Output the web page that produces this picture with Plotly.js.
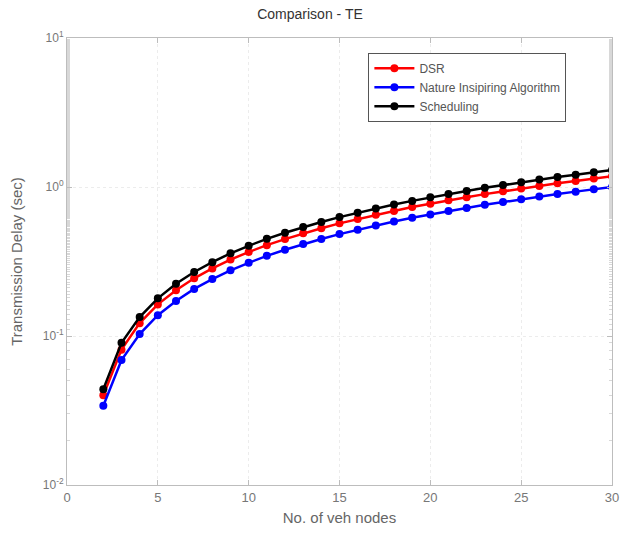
<!DOCTYPE html>
<html>
<head>
<meta charset="utf-8">
<script src="https://cdn.plot.ly/plotly-3.0.1.min.js"></script>
<style>html,body{margin:0;padding:0;background:#fff}#chart{width:620px;height:544px}</style>
</head>
<body>
<div id="chart"></div>
<script>
const nodes = [2,3,4,5,6,7,8,9,10,11,12,13,14,15,16,17,18,19,20,21,22,23,24,25,26,27,28,29,30];
const dsr = [0.040,0.081,0.122,0.163,0.203,0.244,0.284,0.326,0.366,0.407,0.447,0.489,0.529,0.570,0.610,0.651,0.691,0.733,0.773,0.814,0.854,0.896,0.936,0.977,1.017,1.058,1.099,1.140,1.18];
const nature = [0.034,0.069,0.103,0.138,0.172,0.207,0.241,0.276,0.310,0.345,0.379,0.414,0.448,0.483,0.517,0.552,0.586,0.621,0.655,0.690,0.724,0.759,0.793,0.828,0.862,0.897,0.931,0.966,1.0];
const scheduling = [0.044,0.090,0.134,0.179,0.224,0.269,0.313,0.359,0.403,0.449,0.493,0.538,0.582,0.628,0.672,0.718,0.762,0.807,0.852,0.897,0.941,0.987,1.031,1.076,1.121,1.166,1.210,1.256,1.30];
const names = ['DSR','Nature Insipiring Algorithm','Scheduling'];
const colors = ['#ff0000','#0000ff','#000000'];
const series = [dsr, nature, scheduling];
const xTicks = [0,5,10,15,20,25,30];
const yTicks = [0.01, 0.1, 1, 10];
const yTickText = ['10<sup>-2</sup>','10<sup>-1</sup>','10<sup>0</sup>','10<sup>1</sup>'];

const traces = series.map((ys,i)=>({
  x: nodes, y: ys, name: names[i], type:'scatter', mode:'lines+markers',
  line:{color:colors[i], width:2.5},
  marker:{color:colors[i], size:8, symbol:'circle'}
}));

const axisCommon = {
  showline:true, linecolor:'#bdbdbd', linewidth:1, mirror:'ticks',
  ticks:'inside', ticklen:5, tickcolor:'#bdbdbd',
  showgrid:true, gridcolor:'#ececec', griddash:'dot', zeroline:false,
  tickfont:{family:'Liberation Sans, Arial, sans-serif', size:13, color:'#777'}
};

const layout = {
  width:620, height:544,
  margin:{l:67, r:8, t:38, b:59},
  paper_bgcolor:'#fff', plot_bgcolor:'#fff',
  title:{text:'Comparison - TE', x:0.5, xanchor:'center', y:0.975, yanchor:'middle',
    font:{family:'Liberation Sans, Arial, sans-serif', size:14, color:'#333'}},
  xaxis: Object.assign({}, axisCommon, {
    range:[0,30], tickvals:xTicks, ticktext:xTicks.map(String),
    title:{text:'No. of veh nodes', standoff:8, font:{family:'Liberation Sans, Arial, sans-serif', size:15, color:'#666'}}
  }),
  yaxis: Object.assign({}, axisCommon, {
    type:'log', range:[-2,1], tickvals:yTicks, ticktext:yTickText,
    tickfont:{family:'Liberation Sans, Arial, sans-serif', size:12, color:'#777'},
    minor:{ticks:'inside', ticklen:3, tickcolor:'#d8d8d8', showgrid:false},
    title:{text:'Transmission Delay (sec)', standoff:16, font:{family:'Liberation Sans, Arial, sans-serif', size:15, color:'#666'}}
  }),
  legend:{x:0.553, y:0.967, xanchor:'left', yanchor:'top',
    bgcolor:'#fff', bordercolor:'#555', borderwidth:1,
    font:{family:'Liberation Sans, Arial, sans-serif', size:12, color:'#555'},
    tracegroupgap:0, itemwidth:40},
  showlegend:true
};

Plotly.newPlot('chart', traces, layout, {displayModeBar:false, staticPlot:true});
</script>
</body>
</html>
